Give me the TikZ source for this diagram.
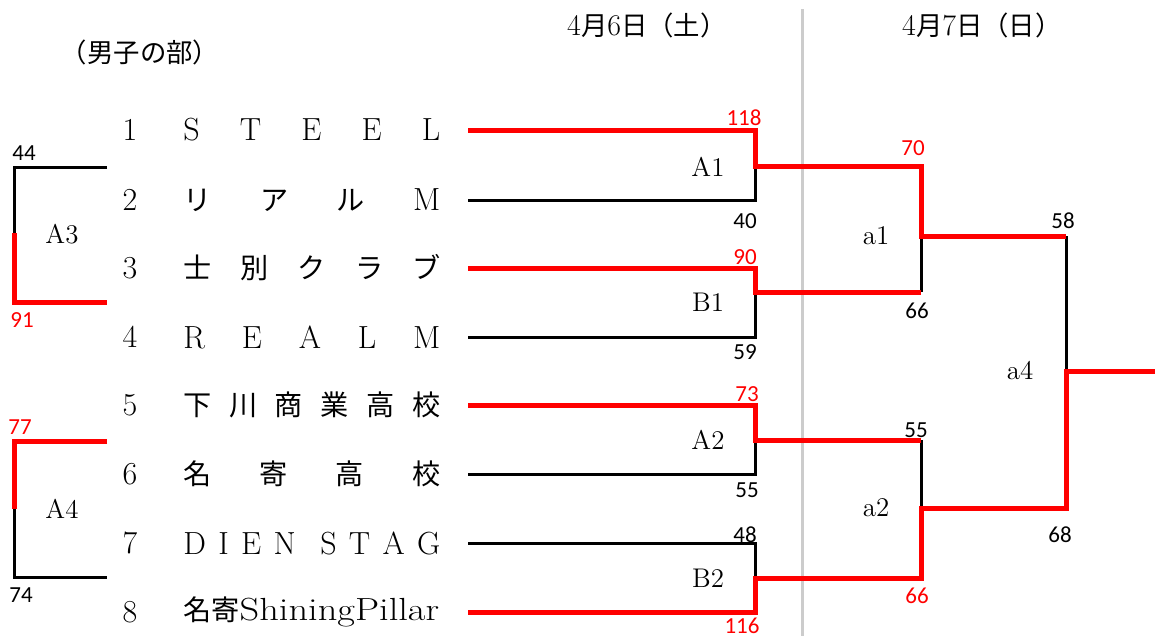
\documentclass[tikz,border=0pt]{standalone}
\usepackage{fontspec}
\newfontfamily\jp[Scale=0.88]{Noto Sans CJK JP}
\newfontfamily\scorefont{Carlito}
\newcommand{\spread}[1]{\makebox[128.5pt][l]{#1}}

\begin{document}
\begin{tikzpicture}[x=0.5pt,y=-0.5pt,
        team/.style={
            anchor=west,
            inner sep=0pt,
            font=\fontsize{16}{19}\selectfont},
        num/.style={
            inner sep=0pt,
            font=\fontsize{16}{19}\selectfont},
        match/.style={
            inner sep=0pt,
            font=\fontsize{13.5}{16}\selectfont},
        score/.style={
            inner sep=0pt,
            font=\scorefont\fontsize{11.5}{14}\selectfont},
        day/.style={
            inner sep=0pt,
            font=\fontsize{15}{18}\selectfont},
        lose/.style={
            draw=black,
            line width=1.5pt},
        win/.style={
            draw=red,
            line width=2.5pt}
        ]

        \useasboundingbox (0,0) rectangle (1155,639);

        % headings
        \node (title) [day] at (140,52) {\jp （男子の部）};
        \node (day1) [day] at (647,25) {4{\jp 月}6{\jp 日（土）}};
        \node (day2) [day] at (982,25) {4{\jp 月}7{\jp 日（日）}};
        \draw [draw=black!20, line width=1.5pt] (802,9) -- (802,636);

        % teams
        \node (n1) [num] at (130,130) {1};
        \node (n2) [num] at (130,200) {2};
        \node (n3) [num] at (130,268) {3};
        \node (n4) [num] at (130,337) {4};
        \node (n5) [num] at (130,405) {5};
        \node (n6) [num] at (130,474) {6};
        \node (n7) [num] at (130,543) {7};
        \node (n8) [num] at (130,612) {8};
        \node (t1) [team] at (183,130) {\spread{S\hfill T\hfill E\hfill E\hfill L}};
        \node (t2) [team] at (183,200) {\spread{{\jp リ}\hfill{\jp ア}\hfill{\jp ル}\hfill M}};
        \node (t3) [team] at (183,268) {\spread{{\jp 士}\hfill{\jp 別}\hfill{\jp ク}\hfill{\jp ラ}\hfill{\jp ブ}}};
        \node (t4) [team] at (183,337) {\spread{R\hfill E\hfill A\hfill L\hfill M}};
        \node (t5) [team] at (183,405) {\spread{{\jp 下}\hfill{\jp 川}\hfill{\jp 商}\hfill{\jp 業}\hfill{\jp 高}\hfill{\jp 校}}};
        \node (t6) [team] at (183,474) {\spread{{\jp 名}\hfill{\jp 寄}\hfill{\jp 高}\hfill{\jp 校}}};
        \node (t7) [team] at (183,543) {\spread{D\hfill I\hfill E\hfill N\hfill\hfill S\hfill T\hfill A\hfill G}};
        \node (t8) [team] at (183,612) {\spread{{\jp 名寄}\scalebox{1.2}[1]{ShiningPillar}}};

        % bracket points
        \coordinate (p1) at (468,130);
        \coordinate (p2) at (468,200);
        \coordinate (p3) at (468,268);
        \coordinate (p4) at (468,337);
        \coordinate (p5) at (468,405);
        \coordinate (p6) at (468,474);
        \coordinate (p7) at (468,543);
        \coordinate (p8) at (468,612);
        \coordinate (j1) at (755,166);
        \coordinate (j2) at (755,292);
        \coordinate (j3) at (755,440);
        \coordinate (j4) at (755,578);
        \coordinate (k1) at (921,236);
        \coordinate (k2) at (921,508);
        \coordinate (m) at (1066,371);
        \coordinate (w) at (1155,371);
        \coordinate (q2) at (107,167);
        \coordinate (q3) at (107,302);
        \coordinate (q6) at (107,441);
        \coordinate (q7) at (107,577);
        \coordinate (r1) at (14,233);
        \coordinate (r2) at (14,509);

        % losers
        \draw [lose] (p2) -| (j1);
        \draw [lose] (p4) -| (j2);
        \draw [lose] (p6) -| (j3);
        \draw [lose] (p7) -| (j4);
        \draw [lose] (j2 -| k1) -- (k1);
        \draw [lose] (j3 -| k2) -- (k2);
        \draw [lose] (k1 -| m) -- (m);
        \draw [lose] (q2) -| (r1);
        \draw [lose] (r2) |- (q7);

        % winners
        \draw [win] (p1) -| (j1) -| (k1) -- (k1 -| m);
        \draw [win] (p3) -| (j2) -- (j2 -| k1);
        \draw [win] (p5) -| (j3) -- (j3 -| k2);
        \draw [win] (p8) -| (j4) -| (k2) -| (m) -- (w);
        \draw [win] (r1) |- (q3);
        \draw [win] (q6) -| (r2);

        % matches
        \node (A1) [match] at (708,167) {A1};
        \node (B1) [match] at (708,302) {B1};
        \node (A2) [match] at (708,440) {A2};
        \node (B2) [match] at (708,578) {B2};
        \node (a1) [match] at (876,236) {a1};
        \node (a2) [match] at (876,508) {a2};
        \node (a4) [match] at (1020,371) {a4};
        \node (A3) [match] at (62,234) {A3};
        \node (A4) [match] at (62,509) {A4};

        % scores
        \node (sA1t) [score, red] at (744,118) {118};
        \node (sA1b) [score] at (745,221) {40};
        \node (sB1t) [score, red] at (745,257) {90};
        \node (sB1b) [score] at (745,352) {59};
        \node (sA2t) [score, red] at (747,394) {73};
        \node (sA2b) [score] at (747,490) {55};
        \node (sB2t) [score] at (745,535) {48};
        \node (sB2b) [score, red] at (742,626) {116};
        \node (sa1t) [score, red] at (913,148) {70};
        \node (sa1b) [score] at (917,311) {66};
        \node (sa2t) [score] at (916,430) {55};
        \node (sa2b) [score, red] at (917,596) {66};
        \node (sa4t) [score] at (1063,221) {58};
        \node (sa4b) [score] at (1060,535) {68};
        \node (sA3t) [score] at (24,153) {44};
        \node (sA3b) [score, red] at (22,320) {91};
        \node (sA4t) [score, red] at (20,427) {77};
        \node (sA4b) [score] at (21,595) {74};

\end{tikzpicture}
\end{document}
